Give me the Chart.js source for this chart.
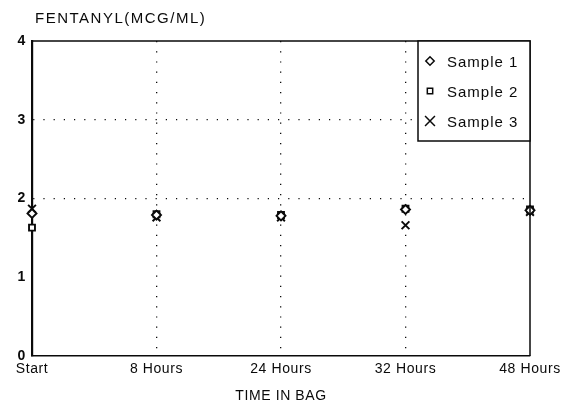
<!DOCTYPE html>
<html>
<head>
<meta charset="utf-8">
<script src="https://cdn.jsdelivr.net/npm/chart.js@4/dist/chart.umd.min.js"></script>
<style>
  html, body { margin: 0; padding: 0; background: #fff; }
  #wrap { width: 571px; height: 410px; position: relative; }
</style>
</head>
<body>
<div id="wrap"><canvas id="c" width="571" height="410"></canvas></div>
<script>
// Fentanyl concentration (mcg/mL) measured over time in the bag
const timePoints = ['Start', '8 Hours', '24 Hours', '32 Hours', '48 Hours'];
const sample1 = [1.81, 1.79, 1.78, 1.86, 1.85];
const sample2 = [1.63, 1.80, 1.79, 1.87, 1.86];
const sample3 = [1.87, 1.76, 1.76, 1.66, 1.83];
const yTicks = [0, 1, 2, 3, 4];
const seriesNames = ['Sample 1', 'Sample 2', 'Sample 3'];
const markerShapes = ['rectRot', 'rect', 'crossRot'];
const markerSizes = [4.5, 4.2, 5.5];
const keyMarkerSizes = [4.2, 3.8, 7];

const FONT = '"Liberation Sans", Arial, Helvetica, sans-serif';
const INK = '#0a0a0a';

const seriesValues = [sample1, sample2, sample3];
const datasets = seriesValues.map((vals, i) => ({
  label: seriesNames[i],
  data: vals,
  showLine: false,
  pointStyle: markerShapes[i],
  pointRadius: markerSizes[i],
  pointBorderWidth: 1.9,
  pointBorderColor: INK,
  pointBackgroundColor: '#fff',
  borderColor: INK,
  backgroundColor: '#fff'
}));

// Header text, frame and boxed key drawn on the canvas
const decorations = {
  id: 'decorations',
  beforeDraw(chart) {
    chart.ctx.letterSpacing = '0.6px';
  },
  afterDraw(chart) {
    const { ctx, chartArea: a } = chart;
    ctx.save();
    ctx.letterSpacing = '1.5px';
    ctx.fillStyle = INK;
    ctx.font = '15px ' + FONT;
    ctx.textBaseline = 'middle';
    ctx.textAlign = 'left';
    ctx.fillText('FENTANYL(MCG/ML)', 35, 19);

    // top and right frame edges
    ctx.strokeStyle = INK;
    ctx.lineWidth = 1.5;
    ctx.beginPath();
    ctx.moveTo(a.left, a.top);
    ctx.lineTo(a.right, a.top);
    ctx.lineTo(a.right, a.bottom);
    ctx.stroke();

    // key box
    const bx = a.right - 112, by = a.top, bw = 112, bh = 100;
    ctx.fillStyle = '#fff';
    ctx.fillRect(bx, by, bw, bh);
    ctx.lineWidth = 1.5;
    ctx.strokeRect(bx, by, bw, bh);
    ctx.font = '15px ' + FONT;
    ctx.letterSpacing = '1px';
    chart.data.datasets.forEach((ds, i) => {
      const y = by + 21 + i * 30;
      ctx.fillStyle = '#fff';
      ctx.strokeStyle = INK;
      Chart.helpers.drawPoint(ctx, {
        pointStyle: ds.pointStyle,
        radius: keyMarkerSizes[i],
        borderWidth: 1.8
      }, bx + 12, y - 1);
      ctx.fillStyle = INK;
      ctx.fillText(ds.label, bx + 29, y + 1);
    });
    ctx.restore();
  }
};

new Chart(document.getElementById('c'), {
  type: 'line',
  data: { labels: timePoints, datasets },
  plugins: [decorations],
  options: {
    responsive: false,
    animation: false,
    layout: { padding: { top: 41, right: 41, left: 0, bottom: 0 } },
    plugins: { legend: { display: false }, tooltip: { enabled: false } },
    scales: {
      x: {
        type: 'category',
        offset: false,
        afterFit(s) { s.height = 54; },
        border: { display: true, color: INK, width: 1.5, dash: [1.2, 9] },
        grid: {
          drawTicks: false,
          lineWidth: 1.3,
          color: (c) => (c.index > 0 && c.index < timePoints.length - 1) ? INK : 'rgba(0,0,0,0)'
        },
        ticks: {
          color: INK,
          padding: 5,
          maxRotation: 0,
          autoSkip: false,
          font: { family: FONT, size: 14 }
        },
        title: {
          display: true,
          text: 'TIME IN BAG',
          color: INK,
          padding: { top: 8, bottom: 5 },
          font: { family: FONT, size: 14 }
        }
      },
      y: {
        min: 0,
        max: 4,
        afterFit(s) { s.width = 32; },
        afterBuildTicks(s) { s.ticks = yTicks.map(v => ({ value: v })); },
        border: { display: true, color: INK, width: 2.2, dash: [1.2, 9] },
        grid: {
          drawTicks: false,
          lineWidth: 1.3,
          color: (c) => (c.tick && (c.tick.value === 2 || c.tick.value === 3)) ? INK : 'rgba(0,0,0,0)'
        },
        ticks: {
          color: INK,
          padding: 6,
          font: { family: FONT, size: 14, weight: 'bold' }
        }
      }
    }
  }
});
</script>
</body>
</html>
